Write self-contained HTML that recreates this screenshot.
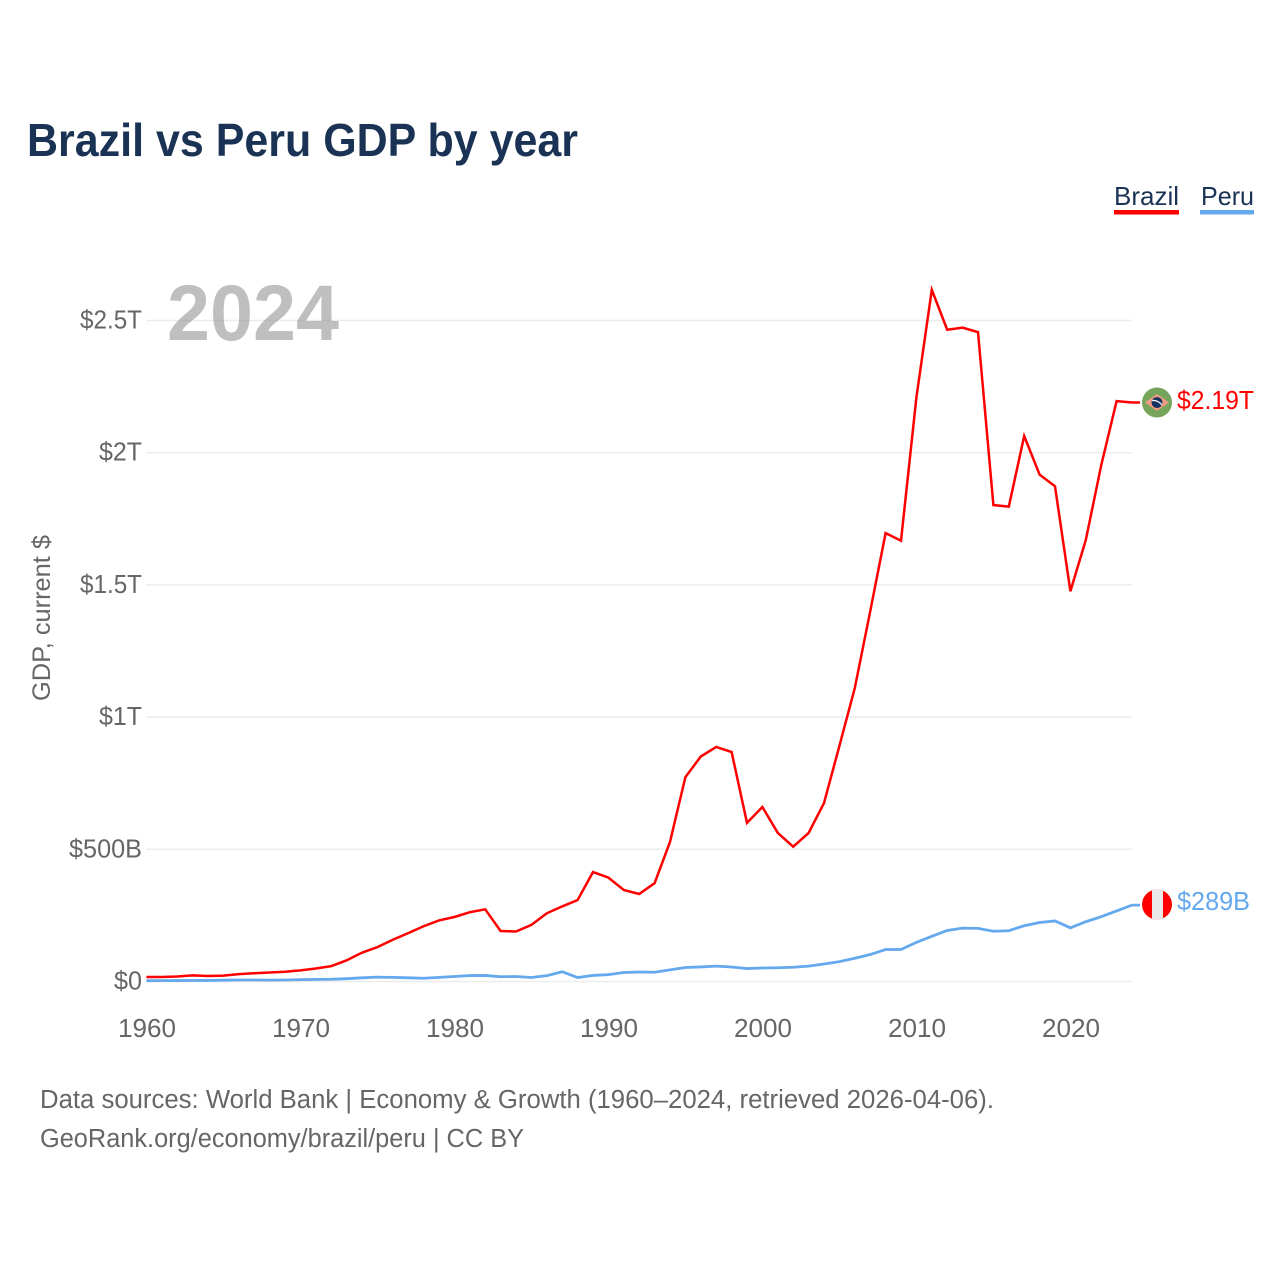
<!DOCTYPE html>
<html lang="en">
<head>
<meta charset="utf-8">
<title>Brazil vs Peru GDP by year</title>
<style>
html,body{margin:0;padding:0;background:#fff;}
svg{display:block;font-family:"Liberation Sans",sans-serif;}
</style>
</head>
<body>
<svg id="chart" xmlns="http://www.w3.org/2000/svg" width="1280" height="1280" viewBox="0 0 1280 1280">
  <rect width="1280" height="1280" fill="#ffffff"/>
  <text x="27" y="156" font-size="46" font-weight="700" fill="#1a3355" textLength="551" lengthAdjust="spacingAndGlyphs">Brazil vs Peru GDP by year</text>

  <g>
    <text x="1114" y="205" font-size="26" fill="#1a3355" textLength="65" lengthAdjust="spacingAndGlyphs">Brazil</text>
    <rect x="1114" y="210" width="65" height="4.5" fill="#ff0000"/>
  </g>
  <g>
    <text x="1201" y="205" font-size="26" fill="#1a3355" textLength="53" lengthAdjust="spacingAndGlyphs">Peru</text>
    <rect x="1200" y="210" width="54" height="4.5" fill="#64a8ee"/>
  </g>

  <g id="grid"></g>
  <g id="yticks"></g>
  <g id="xticks"></g>

  <text transform="translate(50,701) rotate(-90)" font-size="25" fill="#666666" textLength="166" lengthAdjust="spacingAndGlyphs">GDP, current $</text>

  <text x="167" y="340" font-size="79" font-weight="700" fill="#808080" fill-opacity="0.5" textLength="172" lengthAdjust="spacingAndGlyphs">2024</text>

  <g id="series"></g>

  <g id="brazil-end">
    <clipPath id="clip-br"><circle cx="1157" cy="402.5" r="15"/></clipPath>
    <g clip-path="url(#clip-br)">
      <rect x="1142" y="387" width="30" height="31" fill="#74a55a"/>
      <polygon points="1145,402.5 1157,394 1169,402.5 1157,411" fill="#f09c84"/>
      <circle cx="1157" cy="402.5" r="5.4" fill="#14305e"/>
      <path d="M1152,400.5 Q1158,400 1162,405" stroke="#e8eef2" stroke-width="1.3" fill="none"/>
    </g>
    <text x="1177" y="409" font-size="25.5" fill="#ff0000" textLength="77" lengthAdjust="spacingAndGlyphs">$2.19T</text>
  </g>
  <g id="peru-end">
    <clipPath id="clip-pe"><circle cx="1157" cy="904.5" r="15"/></clipPath>
    <g clip-path="url(#clip-pe)">
      <rect x="1142" y="889" width="30" height="31" fill="#ff0000"/>
      <rect x="1152" y="889" width="11" height="31" fill="#e9e9e9"/>
    </g>
    <text x="1177" y="910" font-size="25.5" fill="#64a8ee" textLength="73" lengthAdjust="spacingAndGlyphs">$289B</text>
  </g>

  <text x="40" y="1108" font-size="25.5" fill="#666666" textLength="954" lengthAdjust="spacingAndGlyphs">Data sources: World Bank | Economy &amp; Growth (1960–2024, retrieved 2026-04-06).</text>
  <text x="40" y="1147" font-size="25.5" fill="#666666" textLength="484" lengthAdjust="spacingAndGlyphs">GeoRank.org/economy/brazil/peru | CC BY</text>
</svg>
<script>
const years = [1960,1961,1962,1963,1964,1965,1966,1967,1968,1969,1970,1971,1972,1973,1974,1975,1976,1977,1978,1979,1980,1981,1982,1983,1984,1985,1986,1987,1988,1989,1990,1991,1992,1993,1994,1995,1996,1997,1998,1999,2000,2001,2002,2003,2004,2005,2006,2007,2008,2009,2010,2011,2012,2013,2014,2015,2016,2017,2018,2019,2020,2021,2022,2023,2024];
const brazilGdp = [17,17,19,23,21,22,28,31,34,37,42,49,58,80,109,130,158,183,209,231,244,262,273,191,189,214,258,284,308,414,393,346,331,372,528,773,851,887,868,600,660,562,510,562,675,891,1110,1400,1696,1667,2209,2616,2465,2473,2456,1802,1796,2063,1917,1873,1476,1670,1952,2195,2190];
const peruGdp = [3,3.3,3.6,3.8,4.1,5,5.8,5.7,5.2,5.7,7,7.7,8.5,10.7,13.9,16.4,15.5,14,12.2,15.7,18.9,22.5,23,18,18.8,15,22,37,15,23,26,34,36,35,44,53,55,58,55,49,51,52,54,58,66,75,88,102,121,121,148,171,193,202,201,190,192,211,223,229,203,226,245,267,289];
const yTickValues = [0,500,1000,1500,2000,2500];
const yTickLabels = ["$0","$500B","$1T","$1.5T","$2T","$2.5T"];
const yTickWidths = [28,73,43,62,43,62];
const xTickValues = [1960,1970,1980,1990,2000,2010,2020];

const NS = 'http://www.w3.org/2000/svg';
function xScale(year){ return 146.4 + (year - 1960) * 15.4; }
function yScale(v){ return 981.5 - v * 0.2644; }

const grid = document.getElementById('grid');
const yticks = document.getElementById('yticks');
const xticks = document.getElementById('xticks');
const seriesG = document.getElementById('series');

yTickValues.forEach(function(v, i){
  const line = document.createElementNS(NS, 'line');
  
  
  line.setAttribute('x1', xScale(1960));
  line.setAttribute('x2', xScale(2024));
  line.setAttribute('y1', yScale(v));
  line.setAttribute('y2', yScale(v));
  line.setAttribute('stroke', '#ececec');
  line.setAttribute('stroke-width', '1.5');
  grid.appendChild(line);

  const t = document.createElementNS(NS, 'text');
  
  
  t.setAttribute('x', 142 - yTickWidths[i]);
  t.setAttribute('y', yScale(v) + 8);
  t.setAttribute('font-size', '25.5');
  t.setAttribute('fill', '#666666');
  t.setAttribute('textLength', yTickWidths[i]);
  t.setAttribute('lengthAdjust', 'spacingAndGlyphs');
  t.textContent = yTickLabels[i];
  yticks.appendChild(t);
});

xTickValues.forEach(function(year){
  const t = document.createElementNS(NS, 'text');
  
  
  t.setAttribute('x', xScale(year) - 28.4);
  t.setAttribute('y', 1037);
  t.setAttribute('font-size', '25.5');
  t.setAttribute('fill', '#666666');
  t.setAttribute('textLength', '58');
  t.setAttribute('lengthAdjust', 'spacingAndGlyphs');
  t.textContent = String(year);
  xticks.appendChild(t);
});

function seriesPath(values){
  let d = values.map(function(v, i){
    return (i ? 'L' : 'M') + xScale(years[i]).toFixed(2) + ',' + yScale(v).toFixed(2);
  }).join(' ');
  const last = values[values.length - 1];
  d += ' L1140,' + yScale(last).toFixed(2);
  return d;
}

const peruLine = document.createElementNS(NS, 'path');


peruLine.setAttribute('d', seriesPath(peruGdp));
peruLine.setAttribute('fill', 'none');
peruLine.setAttribute('stroke', '#64a8ee');
peruLine.setAttribute('stroke-width', '2.8');
peruLine.setAttribute('stroke-linejoin', 'miter');
seriesG.appendChild(peruLine);

const brazilLine = document.createElementNS(NS, 'path');


brazilLine.setAttribute('d', seriesPath(brazilGdp));
brazilLine.setAttribute('fill', 'none');
brazilLine.setAttribute('stroke', '#ff0000');
brazilLine.setAttribute('stroke-width', '2.5');
brazilLine.setAttribute('stroke-linejoin', 'miter');
seriesG.appendChild(brazilLine);
</script>
</body>
</html>
